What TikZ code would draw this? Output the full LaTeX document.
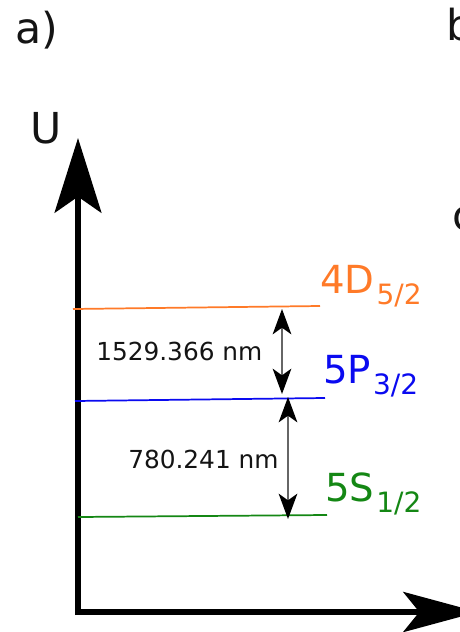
\documentclass[tikz,border=0pt]{standalone}
\usepackage{fontspec}
\setmainfont{DejaVu Sans}
\usetikzlibrary{arrows.meta}
\definecolor{lvorange}{RGB}{255,122,40}
\definecolor{lvblue}{RGB}{10,10,240}
\definecolor{lvgreen}{RGB}{20,135,20}
\definecolor{txtdark}{RGB}{20,20,20}
\newcommand{\lvsub}[1]{\kern1.5pt\raisebox{-8.5pt}{\fontsize{21}{21}\selectfont #1}}
\tikzset{
  axisline/.style={line width=4.5pt, black},
  levelline/.style={line width=1.3pt},
  gaparrow/.style={line width=1.3pt, draw=black!60,
    {Stealth[length=19pt,width=14pt,inset=5pt,black]}-{Stealth[length=19pt,width=14pt,inset=5pt,black]}},
  levellabel/.style={anchor=base west, inner sep=0pt, font=\fontsize{29}{30}\selectfont},
  gaplabel/.style={anchor=base west, inner sep=0pt, text=txtdark, font=\fontsize{18.6}{20}\selectfont},
  panellabel/.style={anchor=base west, inner sep=0pt, text=txtdark, font=\fontsize{32}{34}\selectfont}
}
\begin{document}
\begin{tikzpicture}[x=0.75pt,y=-0.75pt]
\useasboundingbox (0,0) rectangle (460,632);
\clip (0,0) rectangle (460,632);
% panel labels
\node[panellabel] (pa) at (15,43) {a)};
\node[panellabel] (pb) at (446,40) {b};
\node[panellabel] (pc) at (452,230) {c};
\node[panellabel] (U) at (30,143) {U};
% axes
\coordinate (ytip) at (78,138);
\coordinate (xtip) at (478,612);
\coordinate (ybase) at (78,615);
\coordinate (xbase) at (75,612);
\draw[axisline, -{Stealth[length=56pt,width=35pt,inset=12pt]}] (ybase) -- (ytip);
\draw[axisline, -{Stealth[length=56pt,width=30pt,inset=12pt]}] (xbase) -- (xtip);
% levels
\coordinate (dL) at (73,309); \coordinate (dR) at (320,306);
\coordinate (pL) at (75,401); \coordinate (pR) at (325,398);
\coordinate (sL) at (78,517); \coordinate (sR) at (327,515);
\draw[levelline, lvorange] (dL) -- (dR);
\draw[levelline, lvblue] (pL) -- (pR);
\draw[levelline, lvgreen] (sL) -- (sR);
% level labels
\node[levellabel, text=lvorange] (D52) at (320,293) {4D\lvsub{5/2}};
\node[levellabel, text=lvblue] (P32) at (323,383) {5P\lvsub{3/2}};
\node[levellabel, text=lvgreen] (S12) at (325,501) {5S\lvsub{1/2}};
% transitions
\coordinate (a1t) at (282,309);
\coordinate (a1b) at (282,394);
\coordinate (a2t) at (288,397);
\coordinate (a2b) at (288,519);
\draw[gaparrow] (a1t) -- (a1b);
\draw[gaparrow] (a2t) -- (a2b);
\node[gaplabel] (l1) at (96,360) {1529.366 nm};
\node[gaplabel] (l2) at (128,468) {780.241 nm};
\end{tikzpicture}
\end{document}
